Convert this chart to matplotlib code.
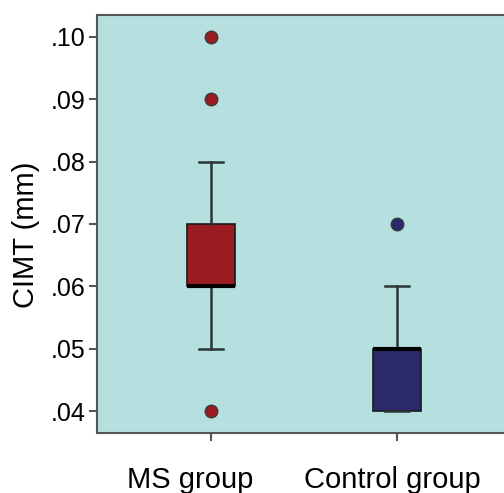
import matplotlib
matplotlib.use('Agg')
import matplotlib.pyplot as plt
from matplotlib.transforms import ScaledTranslation

plt.rcParams['font.family'] = ['Liberation Sans', 'DejaVu Sans']

groups = ['MS group', 'Control group']
q1 = [0.06, 0.04]
medians = [0.06, 0.05]
q3 = [0.07, 0.05]
whis_low = [0.05, 0.04]
whis_high = [0.08, 0.06]
outliers = [[0.04, 0.09, 0.10], [0.07]]
colors = ['#9b1c20', '#2a2a6a']
yticks = [0.04, 0.05, 0.06, 0.07, 0.08, 0.09, 0.10]
ytick_labels = ['.04', '.05', '.06', '.07', '.08', '.09', '.10']

stats = []
for i in range(len(groups)):
    stats.append({'label': groups[i], 'q1': q1[i], 'med': medians[i], 'q3': q3[i],
                  'whislo': whis_low[i], 'whishi': whis_high[i], 'fliers': outliers[i]})

fig = plt.figure(figsize=(5.04, 4.93), dpi=100)
ax = fig.add_axes([97 / 504, 1 - 433 / 493, 414 / 504, 418 / 493])
ax.set_facecolor('#b6dfe0')

bp = ax.bxp(stats, positions=[1, 2], widths=0.253, patch_artist=True,
            showfliers=True)
for i, box in enumerate(bp['boxes']):
    box.set_facecolor(colors[i])
    box.set_edgecolor('#1a1a1a')
    box.set_linewidth(1.2)
for med in bp['medians']:
    med.set_color('black')
    med.set_linewidth(3)
for w in bp['whiskers']:
    w.set_color('#2a3535')
    w.set_linewidth(1.8)
for c in bp['caps']:
    c.set_color('#2a3535')
    c.set_linewidth(1.8)
for i, f in enumerate(bp['fliers']):
    f.set_marker('o')
    f.set_markerfacecolor(colors[i])
    f.set_markeredgecolor('#3a3a3a')
    f.set_markersize(9)
    f.set_markeredgewidth(1)

ax.set_xlim(0.387, 2.613)
ax.set_ylim(0.0365, 0.1035)
ax.set_yticks(yticks)
ax.set_yticklabels(ytick_labels, fontsize=18)
ax.set_xticks([1, 2])
ax.set_xticklabels(groups, fontsize=21)
ax.tick_params(axis='x', length=6, width=1.5, color='#555555', pad=18)
ax.tick_params(axis='y', length=6, width=1.5, color='#555555', pad=2)
ax.set_ylabel('CIMT (mm)', fontsize=21, labelpad=8)
ax.yaxis.label.set_y(0.474)
# the x labels sit a little left of their ticks in the original
for lab, dx in zip(ax.get_xticklabels(), [-0.21, -0.05]):
    lab.set_transform(lab.get_transform() + ScaledTranslation(dx, 0, fig.dpi_scale_trans))
for s in ax.spines.values():
    s.set_color('#555555')
    s.set_linewidth(1.5)

fig.savefig('out.png', dpi=100)
